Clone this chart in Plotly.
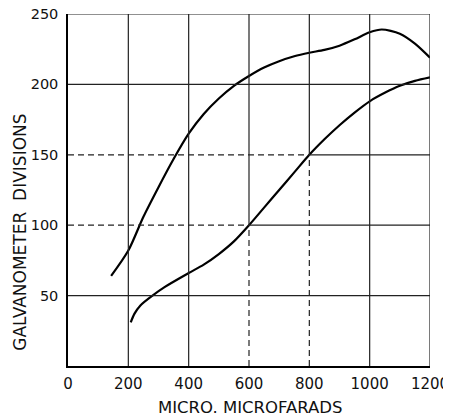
import plotly.graph_objects as go

# values
upper_x = [143, 200, 250, 300, 350, 400, 450, 500, 550, 600, 650, 700, 750, 800, 850, 900, 950, 1000, 1040, 1100, 1150, 1200]
upper_y = [64, 82, 106, 127, 147, 165, 179, 190, 199, 206, 212, 216.5, 220, 222.5, 224.5, 227.5, 232, 237, 239, 236, 229, 219]
lower_x = [208, 220, 240, 280, 320, 400, 450, 500, 550, 600, 650, 700, 750, 800, 850, 900, 950, 1000, 1050, 1100, 1150, 1200]
lower_y = [31, 37, 43, 50, 56, 66, 72, 79.5, 88.5, 100, 112.5, 125, 137.5, 150, 161, 171, 180, 188, 194, 199, 202.5, 205]

x_ticks = [0, 200, 400, 600, 800, 1000, 1200]
y_ticks = [50, 100, 150, 200, 250]
# guide points marked with dashed lines on the lower curve
marked_x = [600, 800]
marked_y = [100, 150]

fnt = "DejaVu Sans"
grid_col = "#222"

fig = go.Figure()
for xs, ys in [(upper_x, upper_y), (lower_x, lower_y)]:
    fig.add_trace(go.Scatter(x=xs, y=ys, mode="lines", line=dict(color="black", width=2.2, shape="spline", smoothing=0.8),
                             showlegend=False, hoverinfo="skip"))

shapes = []
# vertical grid lines
for xv in x_ticks[1:]:
    if xv in marked_x:
        yc = marked_y[marked_x.index(xv)]
        shapes.append(dict(type="line", x0=xv, x1=xv, y0=0, y1=yc, line=dict(color=grid_col, width=1.2, dash="6px,4px")))
        shapes.append(dict(type="line", x0=xv, x1=xv, y0=yc, y1=250, line=dict(color=grid_col, width=1.2)))
    else:
        shapes.append(dict(type="line", x0=xv, x1=xv, y0=0, y1=250, line=dict(color=grid_col, width=1.2)))
# horizontal grid lines
for yv in y_ticks:
    if yv in marked_y:
        xc = marked_x[marked_y.index(yv)]
        shapes.append(dict(type="line", x0=0, x1=xc, y0=yv, y1=yv, line=dict(color=grid_col, width=1.2, dash="6px,4px")))
        shapes.append(dict(type="line", x0=xc, x1=1200, y0=yv, y1=yv, line=dict(color=grid_col, width=1.2)))
    else:
        shapes.append(dict(type="line", x0=0, x1=1200, y0=yv, y1=yv, line=dict(color=grid_col, width=1.2)))

# the page body adds an 8px offset, so margins are trimmed to match
fig.update_layout(
    width=451, height=416,
    margin=dict(l=60, r=29, t=6, b=58),
    plot_bgcolor="white", paper_bgcolor="white",
    shapes=shapes,
    font=dict(family=fnt, size=14, color="#111"),
    annotations=[
        dict(text="GALVANOMETER  DIVISIONS", x=-0.135, y=0.379, xref="paper", yref="paper", textangle=-90,
             showarrow=False, font=dict(family=fnt, size=17, color="#111"), xanchor="center", yanchor="middle"),
        dict(text="MICRO. MICROFARADS", x=0.503, y=-0.118, xref="paper", yref="paper",
             showarrow=False, font=dict(family=fnt, size=16.5, color="#111"), xanchor="center", yanchor="middle"),
    ],
)
fig.update_xaxes(range=[0, 1200], tickvals=x_ticks, showgrid=False, zeroline=False, automargin=False,
                 showline=True, linecolor="black", linewidth=1.5, ticks="", ticklabelstandoff=3,
                 tickfont_size=15, ticklabeloverflow="allow")
fig.update_yaxes(range=[0, 250], tickvals=y_ticks, showgrid=False, zeroline=False, automargin=False,
                 showline=True, linecolor="black", linewidth=1.5, ticks="", ticklabelstandoff=5,
                 tickfont_size=14.5, ticklabeloverflow="allow")

fig.write_html("out.html")
